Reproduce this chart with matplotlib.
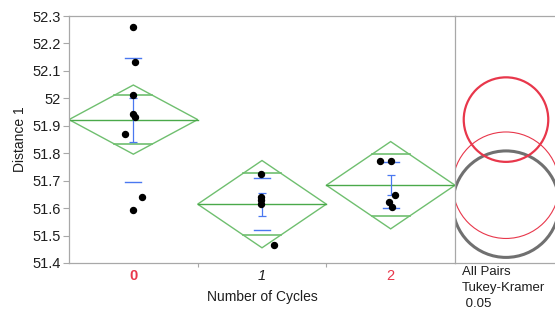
import numpy as np
import matplotlib
matplotlib.use('Agg')
import matplotlib.pyplot as plt
from matplotlib.patches import Polygon, Circle

plt.rcParams['font.family'] = ['Liberation Sans', 'DejaVu Sans']

# ---- data ----
CATEGORIES = ['0', '1', '2']
PTS_0 = [52.261, 52.131, 52.011, 51.942, 51.931, 51.871, 51.641, 51.592]
PTS_1 = [51.723, 51.641, 51.629, 51.614, 51.465]
PTS_2 = [51.773, 51.773, 51.646, 51.622, 51.603]
JIT_0 = [0.0, 0.01, 0.0, 0.0, 0.01, -0.065, 0.07, 0.0]
JIT_1 = [-0.005, -0.01, -0.01, -0.01, 0.09]
JIT_2 = [-0.08, 0.0, 0.035, -0.01, 0.01]
CI_HALF = [0.126, 0.159, 0.159]        # mean diamond half-height (95% CI)
CIRCLE_R = [0.154, 0.194, 0.194]       # Tukey-Kramer comparison circle radii
YTICKS = [51.4, 51.5, 51.6, 51.7, 51.8, 51.9, 52.0, 52.1, 52.2, 52.3]
YTICKLABELS = ['51.4', '51.5', '51.6', '51.7', '51.8', '51.9', '52', '52.1', '52.2', '52.3']

groups = [PTS_0, PTS_1, PTS_2]
jitters = [JIT_0, JIT_1, JIT_2]

GREEN = '#4aa94a'
GREEN_L = '#6fbf6f'
BLUE = '#4a78f0'
RED = '#e8374b'
GRAY = '#707070'
SPINE = '#a8a8a8'
TXT = '#1e1e1e'

W, H = 555, 310
fig = plt.figure(figsize=(W / 100, H / 100), dpi=100)
L, R, T, B = 69, 455, 16, 263
ax = fig.add_axes([L / W, 1 - B / H, (R - L) / W, (B - T) / H])
axc = fig.add_axes([R / W, 1 - B / H, (W - R) / W, (B - T) / H])

ylim = (51.4, 52.3)
ax.set_xlim(-0.5, 2.5)
ax.set_ylim(*ylim)

for i, (pts, jit) in enumerate(zip(groups, jitters)):
    pts = np.array(pts)
    m = pts.mean()
    sd = pts.std(ddof=1)
    se = sd / np.sqrt(len(pts))
    h = CI_HALF[i]
    # diamond
    ax.add_patch(Polygon([[i - 0.5, m], [i, m + h], [i + 0.5, m], [i, m - h]],
                         closed=True, fill=False, ec=GREEN_L, lw=1.0, zorder=2))
    ax.plot([i - 0.5, i + 0.5], [m, m], color=GREEN, lw=1.0, zorder=2)
    # overlap marks
    ov = h / np.sqrt(2)
    hw = 0.5 * (1 - ov / h)
    for s in (1, -1):
        ax.plot([i - hw, i + hw], [m + s * ov, m + s * ov], color=GREEN_L, lw=1.2, zorder=2)
    # std dev lines
    for s in (1, -1):
        ax.plot([i - 0.062, i + 0.062], [m + s * sd, m + s * sd], color=BLUE, lw=1.0, zorder=3)
    # std error bar
    ax.errorbar([i], [m], yerr=[se], fmt='none', ecolor=BLUE, elinewidth=0.9,
                capsize=3, capthick=0.9, zorder=3)
    # points
    ax.plot(i + np.array(jit), pts, 'o', color='black', ms=4.3, zorder=4)

ax.set_yticks(YTICKS)
ax.set_yticklabels(YTICKLABELS)
ax.set_xticks([0, 1, 2])
ax.set_xticklabels(CATEGORIES)
ax.set_xticks([0.5, 1.5], minor=True)
ax.tick_params(axis='x', which='major', length=0, pad=4, labelsize=10.5)
ax.tick_params(axis='x', which='minor', length=3, color=SPINE, width=0.8)
ax.tick_params(axis='y', length=4, color=SPINE, width=0.8, labelsize=10.5, pad=2,
               labelcolor=TXT)
xl = ax.get_xticklabels()
xl[0].set_color(RED); xl[0].set_fontweight('bold')
xl[1].set_color(TXT); xl[1].set_fontstyle('italic')
xl[2].set_color(RED)
for s in ax.spines.values():
    s.set_color(SPINE); s.set_linewidth(0.9)
ax.spines['right'].set_visible(False)
ax.set_ylabel('Distance 1', fontsize=10, labelpad=4, color=TXT)
ax.set_xlabel('Number of Cycles', fontsize=10, labelpad=5, color=TXT)

# comparison circles panel
ppu = (B - T) / (ylim[1] - ylim[0])
axc.set_ylim(*ylim)
axc.set_xlim(0, (W - R) / ppu)
cx = (506 - R) / ppu
means = [np.mean(g) for g in groups]
styles = [(RED, 1.6), (GRAY, 2.2), (RED, 0.8)]
for i in [2, 1, 0]:
    col, lw = styles[i]
    axc.add_patch(Circle((cx, means[i]), CIRCLE_R[i], fill=False, ec=col, lw=lw))
axc.set_xticks([]); axc.set_yticks([])
for s in axc.spines.values():
    s.set_color(SPINE); s.set_linewidth(0.9)
axc.spines['right'].set_visible(False)

fig.text(462 / W, 1 - 272 / H, 'All Pairs', fontsize=9.5, va='center', color=TXT)
fig.text(462 / W, 1 - 288 / H, 'Tukey-Kramer', fontsize=9.5, va='center', color=TXT)
fig.text(462 / W, 1 - 304 / H, ' 0.05', fontsize=9.5, va='center', color=TXT)

fig.savefig('out.png', dpi=100, facecolor='white')
